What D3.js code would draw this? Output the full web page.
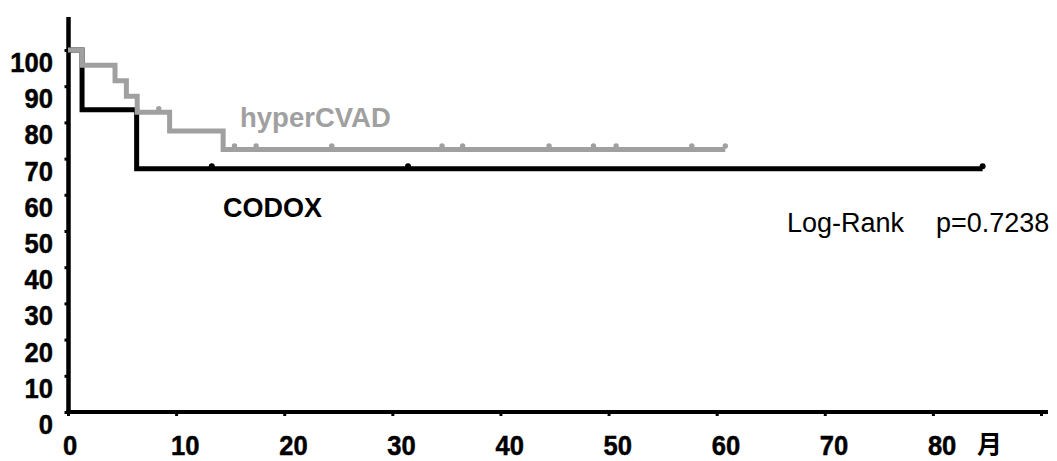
<!DOCTYPE html>
<html>
<head>
<meta charset="utf-8">
<script src="https://cdn.jsdelivr.net/npm/d3@7"></script>
<style>
  html, body { margin: 0; padding: 0; background: #fff; }
  svg { display: block; }
</style>
</head>
<body>
<svg id="chart" width="1057" height="461"></svg>
<script>
// ---- data ----
const yTicks = [0, 10, 20, 30, 40, 50, 60, 70, 80, 90, 100];
const xTicks = [0, 10, 20, 30, 40, 50, 60, 70, 80];
const xUnit = "月";

const hyperTimes = [0, 1.3, 4.35, 5.4, 6.4, 9.4, 14.35, 60.8];
const hyperSurv  = [100, 95.8, 91.5, 87.2, 82.8, 77.6, 72.5, 72.5];
const hyperCensor = [8.4, 15.4, 17.4, 24.4, 34.6, 36.5, 44.5, 48.6, 50.7, 57.7, 60.8];

const codoxTimes = [0, 1.3, 6.35, 84.6];
const codoxSurv  = [100, 83.5, 67.2, 67.2];
const codoxCensor = [13.3, 31.45, 84.6];

const seriesNames = ["hyperCVAD", "CODOX"];
const statLabel = "Log-Rank";
const statValue = "p=0.7238";

// ---- drawing ----
const svg = d3.select("#chart");
const x = d3.scaleLinear().domain([0, 90]).range([68, 1041]);
const y = d3.scaleLinear().domain([0, 100]).range([412, 50]);
const font = "'Liberation Sans', Arial, sans-serif";
const grey = "#a0a0a0";
const tickFont = 27.5, tickSX = 0.93;

function survAt(times, surv, t) {
  let v = surv[0];
  for (let i = 0; i < times.length; i++) if (times[i] <= t) v = surv[i];
  return v;
}

// axes
const yAxis = d3.axisLeft(y).tickValues(yTicks).tickSize(4).tickFormat("");
const gy = svg.append("g").attr("transform", "translate(68.5,0)").call(yAxis);
gy.select(".domain").remove();
gy.selectAll(".tick line").attr("stroke", "#000").attr("stroke-width", 3);
svg.append("line").attr("x1", 68.5).attr("x2", 68.5).attr("y1", 17).attr("y2", 414)
  .attr("stroke", "#000").attr("stroke-width", 4.5);

const xAxis = d3.axisBottom(x).tickValues(xTicks.concat([90])).tickSize(4).tickFormat("");
const gx = svg.append("g").attr("transform", "translate(0,412)").call(xAxis);
gx.select(".domain").remove();
gx.selectAll(".tick line").attr("stroke", "#000").attr("stroke-width", 3);
svg.append("line").attr("x1", 66).attr("x2", 1048).attr("y1", 412).attr("y2", 412)
  .attr("stroke", "#000").attr("stroke-width", 4);

// tick labels
svg.append("g").selectAll("text").data(yTicks).join("text")
  .attr("transform", d => `translate(53,${y(d) + 22}) scale(${tickSX},1)`)
  .attr("text-anchor", "end")
  .attr("font-family", font).attr("font-weight", "bold").attr("font-size", tickFont)
  .attr("stroke", "#000").attr("stroke-width", 0.5)
  .text(d => d);

svg.append("g").selectAll("text").data(xTicks).join("text")
  .attr("transform", d => `translate(${x(d) - 5},454.5) scale(${tickSX},1)`)
  .attr("text-anchor", "start")
  .attr("font-family", font).attr("font-weight", "bold").attr("font-size", tickFont)
  .attr("stroke", "#000").attr("stroke-width", 0.5)
  .text(d => d);

svg.append("text").attr("x", 977).attr("y", 453)
  .attr("font-family", "'Noto Sans CJK JP', 'Noto Sans CJK SC', sans-serif")
  .attr("font-weight", "bold").attr("font-size", 25)
  .text(xUnit);

// curves
const line = d3.line().x(d => x(d[0])).y(d => y(d[1])).curve(d3.curveStepAfter);

const codoxPts = codoxTimes.map((t, i) => [t, codoxSurv[i]]);
svg.append("path").attr("d", line(codoxPts))
  .attr("fill", "none").attr("stroke", "#000").attr("stroke-width", 5)
  .attr("stroke-linejoin", "miter");
svg.append("g").selectAll("circle").data(codoxCensor).join("circle")
  .attr("cx", d => x(d)).attr("cy", d => y(survAt(codoxTimes, codoxSurv, d)) - 2.5)
  .attr("r", 3).attr("fill", "#000");

const hyperPts = hyperTimes.map((t, i) => [t, hyperSurv[i]]);
svg.append("path").attr("d", line(hyperPts))
  .attr("fill", "none").attr("stroke", grey).attr("stroke-width", 5)
  .attr("stroke-linejoin", "miter");
svg.append("g").selectAll("circle").data(hyperCensor).join("circle")
  .attr("cx", d => x(d)).attr("cy", d => y(survAt(hyperTimes, hyperSurv, d)) - 3.5)
  .attr("r", 2.7).attr("fill", grey);

// labels
svg.append("text").attr("x", 240).attr("y", 127)
  .attr("font-family", font).attr("font-weight", "bold").attr("font-size", 27.5)
  .attr("fill", grey).text(seriesNames[0]);
svg.append("text").attr("x", 223).attr("y", 217)
  .attr("font-family", font).attr("font-weight", "bold").attr("font-size", 27)
  .attr("fill", "#000").text(seriesNames[1]);

svg.append("text").attr("x", 787).attr("y", 232)
  .attr("font-family", font).attr("font-size", 27).text(statLabel);
svg.append("text").attr("x", 936).attr("y", 232)
  .attr("font-family", font).attr("font-size", 27).text(statValue);
</script>
</body>
</html>
